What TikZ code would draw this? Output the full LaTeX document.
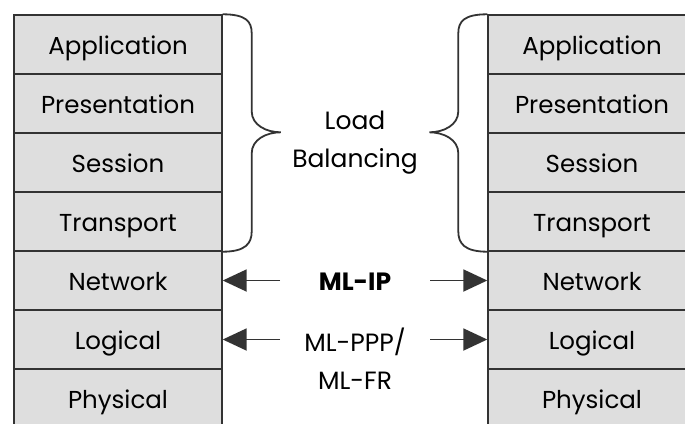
\documentclass[tikz,border=0pt]{standalone}
\usepackage{fontspec}
\setmainfont{Poppins}
\usepackage{xcolor}
\usepackage{tikz}
\usetikzlibrary{
  arrows.meta,
  positioning,
  calc
}
\definecolor{LayerGray}{HTML}{DEDEDE}
\definecolor{LineGray}{HTML}{333333}
\tikzset{
  layerbox/.style={
    draw=LineGray,
    line width=1.4pt,
    fill=LayerGray,
    minimum width=208pt,
    minimum height=59pt,
    inner sep=0pt,
    text height=39pt,
    text depth=20pt,
    font=\fontsize{24.5}{28}\selectfont
  },
  brace/.style={
    draw=LineGray,
    line width=1.8pt
  },
  label/.style={
    align=center,
    font=\fontsize{25}{38}\selectfont
  },
  connection/.style={
    draw=LineGray,
    line width=1.9pt,
    -{Triangle[length=24pt,width=22pt]}
  }
}

\begin{document}
\begin{tikzpicture}[x=1pt,y=-1pt]

  \clip (0,0) rectangle (685,423);
  \useasboundingbox (0,0) rectangle (685,423);

  % two protocol stacks
  \foreach \name [count=\i] in {
    Application,Presentation,Session,Transport,Network,Logical,Physical
  }{
    \node[layerbox] (L\i) at (118,{44.5+59*(\i-1)}) {\name};
    \node[layerbox] (R\i) at (592,{44.5+59*(\i-1)}) {\name};
  }

  % braces round the upper layers
  \draw[brace]
    (L1.north east)
    .. controls +(23,0) and +(0,-12) .. ++(29,19)
    -- ++(0,78)
    .. controls +(0,14) and +(-14,0) .. ++(29,21)
    .. controls +(-14,0) and +(0,-14) .. ++(-29,21)
    -- ++(0,78)
    .. controls +(0,12) and +(23,0) .. (L4.south east);

  \draw[brace]
    (R1.north west)
    .. controls +(-23,0) and +(0,-12) .. ++(-29,19)
    -- ++(0,78)
    .. controls +(0,14) and +(14,0) .. ++(-29,21)
    .. controls +(14,0) and +(0,-14) .. ++(29,21)
    -- ++(0,78)
    .. controls +(0,12) and +(-23,0) .. (R4.south west);

  \node[label] (lb) at (355,143) {Load\\Balancing};

  % links between the lower layers
  \node[label, font=\fontsize{25}{28}\bfseries] (ip) at (355,282) {ML-IP};
  \node[label, anchor=north] (ppp) at (355,324) {ML-PPP/\\ML-FR};

  \coordinate (ipL) at (280,280.5);
  \coordinate (ipR) at (430,280.5);
  \coordinate (pppL) at (280,339.5);
  \coordinate (pppR) at (430,339.5);

  \draw[connection] (ipL) -- (L5.east);
  \draw[connection] (ipR) -- (R5.west);
  \draw[connection] (pppL) -- (L6.east);
  \draw[connection] (pppR) -- (R6.west);

\end{tikzpicture}
\end{document}
